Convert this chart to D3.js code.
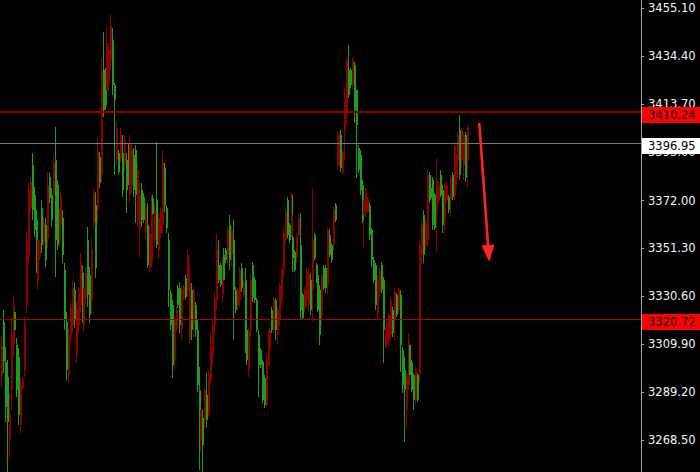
<!DOCTYPE html>
<html><head><meta charset="utf-8">
<script src="https://cdn.jsdelivr.net/npm/d3@7"></script>
<style>html,body{margin:0;padding:0;background:#000;overflow:hidden}</style>
</head><body><svg id="c" width="700" height="472"></svg>
<script>
const open=[3309.1,3302.6,3282.7,3276.2,3280.1,3313.8,3326.8,3316.0,3290.0,3279.2,
3292.2,3294.8,3318.1,3354.9,3376.5,3380.0,3367.9,3359.2,3344.1,3354.9,
3353.6,3352.7,3362.7,3346.3,3378.7,3373.1,3363.6,3388.2,3354.9,3352.7,
3366.6,3373.5,3348.4,3320.3,3298.7,3313.8,3325.5,3334.1,3320.3,3324.7,
3332.0,3345.4,3322.5,3334.1,3340.6,3331.1,3322.5,3350.6,3375.2,3342.8,
3393.8,3379.6,3428.4,3411.1,3413.3,3440.1,3437.1,3447.9,3421.9,3415.5,
3403.3,3384.3,3400.3,3376.5,3398.2,3376.5,3381.7,3396.0,3393.8,3376.5,
3374.4,3385.2,3374.4,3363.6,3363.6,3369.2,3344.1,3357.9,3370.0,3366.2,
3367.9,3352.7,3364.4,3367.0,3388.2,3370.0,3360.1,3333.3,3318.1,3300.8,
3320.3,3324.7,3326.8,3318.1,3333.3,3334.6,3330.3,3348.4,3336.3,3316.0,
3333.3,3316.0,3292.2,3281.4,3281.4,3266.2,3290.0,3277.1,3296.5,3309.5,
3318.1,3330.3,3350.6,3337.6,3335.4,3344.1,3337.6,3346.3,3359.2,3346.3,
3359.2,3333.3,3324.7,3333.3,3342.0,3334.1,3336.7,3309.5,3303.0,3316.0,
3337.6,3329.8,3329.0,3316.0,3300.8,3300.8,3285.7,3283.5,3303.0,3314.7,
3316.0,3316.0,3329.0,3316.0,3324.7,3335.4,3342.0,3357.9,3367.0,3357.1,
3354.9,3365.7,3347.1,3342.0,3356.2,3364.4,3324.7,3321.2,3333.3,3341.1,
3339.8,3324.7,3354.9,3347.1,3337.6,3324.7,3313.8,3339.8,3334.1,3334.1,
3359.2,3348.4,3346.3,3367.9,3363.6,3400.3,3399.5,3386.0,3393.0,3415.5,
3432.8,3417.6,3421.9,3432.8,3411.1,3404.6,3385.2,3376.5,3363.6,3372.2,
3376.5,3373.1,3357.1,3346.3,3337.6,3326.8,3337.6,3342.0,3333.3,3316.0,
3316.0,3319.0,3322.5,3329.0,3314.7,3332.4,3322.5,3333.3,3309.5,3292.2,
3290.0,3296.5,3311.7,3296.5,3290.0,3285.7,3298.7,3285.7,3352.7,3361.4,
3348.4,3362.3,3383.0,3372.2,3373.5,3361.4,3360.1,3380.9,3378.7,3374.4,
3361.4,3378.7,3378.7,3367.9,3381.7,3373.5,3396.0,3392.5,3400.3,3383.0,
3402.5,3400.3,3381.7,3403.3];
const high=[3313.4,3324.7,3308.6,3303.0,3288.7,3321.6,3331.1,3325.5,3312.5,3308.2,
3295.7,3295.7,3321.6,3359.2,3379.6,3382.2,3392.5,3377.8,3367.9,3357.9,
3354.9,3372.2,3364.8,3364.4,3384.3,3384.3,3377.4,3391.7,3403.8,3380.9,
3368.7,3375.7,3367.9,3345.0,3323.8,3316.8,3328.1,3337.6,3336.7,3328.1,
3334.6,3349.3,3344.1,3337.6,3343.2,3360.5,3343.2,3355.8,3377.4,3375.7,
3399.0,3393.0,3433.6,3444.9,3429.3,3447.0,3440.1,3452.2,3446.6,3422.8,
3405.9,3393.8,3403.3,3400.3,3400.3,3392.5,3396.9,3400.3,3396.9,3394.7,
3396.0,3388.2,3379.6,3379.6,3375.2,3371.3,3370.9,3360.5,3374.4,3374.4,
3370.9,3397.3,3366.6,3369.2,3393.8,3388.2,3370.0,3357.9,3333.3,3329.0,
3321.6,3325.9,3335.4,3336.7,3335.4,3335.4,3339.8,3350.6,3344.1,3336.3,
3334.6,3328.1,3320.3,3300.0,3282.7,3281.4,3291.3,3297.4,3298.7,3314.7,
3320.3,3332.4,3357.9,3354.9,3345.0,3347.5,3351.4,3351.4,3360.5,3365.7,
3360.5,3363.6,3334.6,3334.1,3343.2,3345.0,3337.6,3342.8,3317.3,3316.8,
3340.6,3345.4,3338.9,3329.8,3316.0,3308.2,3303.0,3296.5,3305.2,3316.0,
3316.8,3325.9,3330.3,3329.8,3325.9,3336.3,3343.2,3359.2,3368.7,3373.5,
3362.3,3375.2,3374.4,3350.6,3357.9,3365.7,3366.6,3332.0,3334.6,3342.8,
3342.8,3340.6,3377.4,3357.9,3345.0,3340.6,3335.4,3340.6,3344.1,3344.1,
3360.5,3359.2,3353.6,3369.2,3370.9,3401.6,3401.2,3402.5,3393.8,3420.6,
3434.0,3439.2,3429.3,3434.0,3431.9,3419.8,3396.0,3393.8,3380.9,3373.1,
3377.4,3373.5,3371.3,3360.1,3347.5,3345.0,3339.8,3344.1,3345.4,3338.9,
3316.8,3320.3,3323.3,3330.3,3325.9,3334.1,3332.0,3334.1,3333.3,3308.6,
3304.3,3297.4,3314.7,3310.8,3303.0,3297.4,3300.0,3297.4,3354.9,3363.6,
3367.9,3363.6,3385.2,3384.3,3377.4,3382.2,3375.2,3390.4,3380.0,3385.2,
3378.7,3380.0,3380.0,3374.4,3383.0,3384.3,3397.3,3393.8,3401.6,3409.0,
3403.8,3401.2,3401.6,3404.6];
const low=[3291.3,3297.4,3276.2,3254.6,3261.1,3281.4,3304.3,3314.7,3287.0,3274.9,
3271.4,3290.0,3295.7,3323.3,3345.0,3366.6,3363.6,3356.2,3340.6,3333.3,
3346.3,3349.3,3351.9,3343.2,3351.4,3370.9,3360.5,3370.9,3338.9,3350.6,
3351.9,3359.2,3345.0,3316.0,3294.4,3293.5,3310.4,3314.7,3316.8,3301.7,
3314.7,3323.3,3319.0,3315.1,3326.8,3325.9,3319.0,3323.3,3360.1,3338.5,
3362.3,3377.4,3379.6,3408.1,3411.1,3412.4,3418.9,3428.4,3417.6,3383.0,
3387.3,3383.0,3388.2,3373.5,3383.9,3366.6,3378.7,3370.9,3375.2,3373.5,
3362.3,3360.5,3347.5,3360.5,3362.3,3355.8,3342.8,3340.6,3343.2,3364.8,
3351.9,3351.4,3347.1,3355.8,3357.9,3367.0,3357.9,3325.9,3316.0,3295.2,
3298.7,3315.1,3325.5,3314.7,3311.7,3329.0,3329.0,3330.3,3310.4,3311.7,
3312.9,3312.9,3289.2,3255.4,3263.2,3254.6,3273.6,3274.0,3278.4,3292.2,
3301.7,3314.7,3324.7,3336.3,3334.6,3327.7,3334.6,3345.0,3345.0,3342.0,
3343.2,3311.7,3323.3,3324.7,3325.9,3332.4,3330.3,3306.0,3300.8,3295.7,
3312.9,3328.1,3327.7,3315.1,3287.0,3299.5,3284.4,3282.3,3282.7,3300.0,
3307.3,3314.7,3314.7,3311.7,3309.5,3317.3,3326.8,3338.9,3353.6,3355.8,
3353.6,3356.2,3341.1,3341.1,3345.0,3356.2,3320.3,3320.3,3323.8,3325.9,
3323.8,3322.5,3319.4,3346.3,3336.3,3323.8,3309.5,3318.1,3333.3,3332.0,
3331.1,3347.5,3345.0,3350.6,3362.7,3385.2,3386.5,3384.3,3383.0,3389.5,
3404.6,3416.3,3420.6,3419.8,3405.5,3381.7,3383.9,3374.4,3362.3,3351.4,
3364.8,3366.6,3354.9,3343.2,3336.3,3324.7,3320.3,3330.3,3332.0,3301.7,
3308.2,3308.2,3308.6,3311.7,3312.9,3311.7,3321.6,3323.3,3297.8,3288.7,
3267.5,3273.6,3290.0,3293.5,3289.2,3281.4,3283.5,3284.9,3293.1,3345.0,
3345.0,3350.6,3351.9,3370.9,3373.1,3359.2,3359.2,3349.7,3370.9,3373.5,
3357.9,3357.9,3370.9,3366.6,3364.8,3372.2,3372.2,3374.4,3381.7,3380.9,
3386.5,3380.9,3380.0,3377.4];
const close=[3295.7,3319.4,3302.1,3295.7,3268.4,3290.0,3309.5,3323.8,3309.5,3304.3,
3274.9,3290.9,3298.7,3326.8,3348.4,3368.7,3387.3,3374.4,3363.6,3336.3,
3347.5,3368.7,3354.0,3361.4,3355.8,3382.2,3374.4,3374.4,3389.5,3378.7,
3354.0,3361.4,3364.4,3342.0,3319.4,3296.5,3312.9,3318.1,3333.3,3305.2,
3318.1,3326.8,3340.6,3318.1,3329.8,3354.9,3339.8,3329.0,3362.7,3370.0,
3367.9,3390.8,3383.0,3428.4,3427.6,3419.8,3421.9,3432.8,3441.4,3421.9,
3389.5,3392.5,3390.4,3392.5,3387.3,3389.5,3393.8,3374.4,3378.7,3391.7,
3393.8,3363.6,3359.2,3376.5,3373.5,3358.4,3361.4,3342.8,3346.3,3373.1,
3354.9,3372.2,3350.6,3357.9,3361.4,3386.0,3368.7,3354.9,3332.0,3326.8,
3303.0,3316.8,3334.1,3334.1,3316.0,3329.8,3338.5,3333.3,3311.7,3333.3,
3318.1,3326.8,3316.0,3290.0,3268.4,3277.9,3277.1,3287.9,3279.2,3294.4,
3305.2,3318.1,3329.0,3344.1,3344.1,3331.1,3348.4,3350.6,3348.4,3361.4,
3348.4,3354.9,3333.3,3326.8,3329.0,3342.8,3331.1,3337.6,3316.0,3298.7,
3316.0,3344.1,3337.6,3329.0,3313.8,3307.3,3302.1,3295.2,3283.5,3300.8,
3308.2,3324.7,3316.0,3329.0,3313.8,3320.3,3329.0,3342.0,3354.9,3372.2,
3361.4,3357.1,3356.2,3349.7,3347.1,3357.1,3352.7,3331.1,3325.5,3329.0,
3326.8,3337.6,3333.3,3357.1,3344.1,3339.8,3333.3,3322.5,3342.8,3342.8,
3335.4,3357.1,3352.7,3352.7,3370.0,3387.3,3387.3,3400.3,3383.9,3402.5,
3409.0,3428.4,3428.4,3421.9,3430.6,3419.8,3394.7,3391.7,3378.7,3365.7,
3367.0,3367.0,3370.0,3359.2,3346.3,3344.1,3322.5,3332.4,3344.1,3337.6,
3309.5,3309.5,3311.7,3313.8,3324.7,3320.3,3331.1,3324.7,3331.1,3307.3,
3298.7,3281.4,3292.2,3309.5,3302.1,3296.5,3285.7,3296.5,3296.5,3348.4,
3365.7,3352.7,3354.9,3383.0,3377.0,3380.9,3374.4,3365.7,3372.2,3383.0,
3376.5,3363.6,3372.2,3373.5,3372.2,3383.0,3376.5,3378.7,3389.5,3402.5,
3389.5,3387.3,3400.3,3389.5];

const priceTicks=[3455.10,3434.40,3413.70,3393.00,3372.00,3351.30,3330.60,3309.90,3289.20,3268.50];
const redLevels=[3410.24,3320.72];
const grayLevel=3396.95;
// arrow annotation: [bar index, price]
const arrowStart=[249.4,3405.5];
const arrowEnd=[254.6,3345.4];

const W=700,H=472,axisX=641;
const svg=d3.select('#c');
svg.append('rect').attr('width',W).attr('height',H).attr('fill','#000');

const x=d3.scaleLinear().domain([0,open.length-1]).range([1,467]);
const y=d3.scaleLinear().domain([3410.24,3320.72]).range([112,319]);

const GREEN='#1c9e1c', RED='#8c0000';
const idx=d3.range(open.length);
const g=svg.append('g').attr('shape-rendering','crispEdges');
g.selectAll('line.w').data(idx).join('line')
  .attr('x1',i=>Math.round(x(i))+0.5).attr('x2',i=>Math.round(x(i))+0.5)
  .attr('y1',i=>y(high[i])).attr('y2',i=>y(low[i]))
  .attr('stroke',i=>close[i]>=open[i]?GREEN:RED).attr('stroke-width',1);
g.selectAll('rect.b').data(idx).join('rect')
  .attr('x',i=>Math.round(x(i)))
  .attr('width',2)
  .attr('y',i=>y(Math.max(open[i],close[i])))
  .attr('height',i=>Math.max(1,Math.abs(y(open[i])-y(close[i]))))
  .attr('fill',i=>close[i]>=open[i]?GREEN:RED);

// horizontal levels
const lv=svg.append('g').attr('shape-rendering','crispEdges');
lv.append('line').attr('x1',0).attr('x2',axisX).attr('y1',Math.round(y(redLevels[0]))).attr('y2',Math.round(y(redLevels[0])))
  .attr('stroke','#930000').attr('stroke-width',2);
lv.append('line').attr('x1',0).attr('x2',axisX).attr('y1',Math.round(y(redLevels[1]))+0.5).attr('y2',Math.round(y(redLevels[1]))+0.5)
  .attr('stroke','#b00000').attr('stroke-width',1);
lv.append('line').attr('x1',0).attr('x2',axisX).attr('y1',Math.round(y(grayLevel))+0.5).attr('y2',Math.round(y(grayLevel))+0.5)
  .attr('stroke','#6c7c8c').attr('stroke-width',1);

// arrow
const ax0=x(arrowStart[0]),ay0=y(arrowStart[1]),ax1=x(arrowEnd[0]),ay1=y(arrowEnd[1]);
const dx=ax1-ax0,dy=ay1-ay0,len=Math.hypot(dx,dy),ux=dx/len,uy=dy/len;
const headL=17,headW=6.5;
const bx=ax1-ux*headL,by=ay1-uy*headL;
svg.append('line').attr('x1',ax0).attr('y1',ay0).attr('x2',bx+ux*2).attr('y2',by+uy*2)
  .attr('stroke','#ff2424').attr('stroke-width',2.6);
svg.append('path').attr('d',`M${ax1},${ay1}L${bx-uy*headW},${by+ux*headW}L${bx+uy*headW},${by-ux*headW}Z`)
  .attr('fill','#ff2424');

// axis
svg.append('line').attr('x1',axisX+0.5).attr('x2',axisX+0.5).attr('y1',0).attr('y2',H)
  .attr('stroke','#a8a8a8').attr('stroke-width',1).attr('shape-rendering','crispEdges');
const axis=d3.axisRight(y).tickValues(priceTicks).tickSize(3).tickPadding(4).tickFormat(d3.format('.2f'));
const ag=svg.append('g').attr('transform',`translate(${axisX},0)`).call(axis);
ag.select('.domain').remove();
ag.selectAll('.tick line').attr('stroke','#a8a8a8').attr('shape-rendering','crispEdges');
ag.selectAll('.tick text').attr('fill','#f4f4f4').attr('font-family','DejaVu Sans').attr('font-size','11.5px');

// level labels
const labels=[{v:redLevels[0],bg:'#ff0000'},{v:grayLevel,bg:'#ffffff'},{v:redLevels[1],bg:'#ff0000'}];
const lg=svg.append('g');
labels.forEach(d=>{
  const yy=y(d.v);
  lg.append('rect').attr('x',axisX+1).attr('y',Math.round(yy)-5).attr('width',W-axisX-1).attr('height',16)
    .attr('fill',d.bg).attr('shape-rendering','crispEdges');
  lg.append('text').attr('x',648).attr('y',Math.round(yy)+3).attr('dy','0.36em')
    .attr('font-family','DejaVu Sans').attr('font-size','11.5px').attr('fill','#000')
    .text(d3.format('.2f')(d.v));
});
</script></body></html>
